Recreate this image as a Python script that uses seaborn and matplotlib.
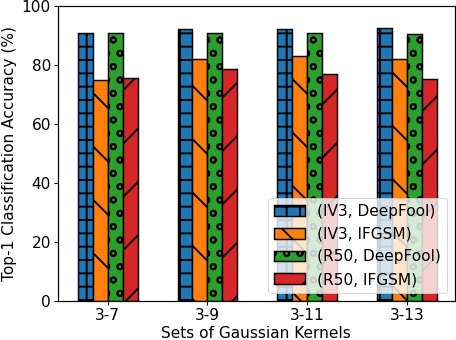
import seaborn as sns
import pandas as pd
import numpy as np
import matplotlib.pyplot as plt

# data
kernels = ['3-7', '3-9', '3-11', '3-13']
series = ['(IV3, DeepFool)', '(IV3, IFGSM)', '(R50, DeepFool)', '(R50, IFGSM)']
iv3_deepfool = [91.0, 92.2, 92.2, 92.5]
iv3_ifgsm = [75.0, 82.2, 83.2, 82.0]
r50_deepfool = [91.0, 91.0, 90.8, 90.5]
r50_ifgsm = [75.7, 78.8, 77.0, 75.3]

colors = ['#1f77b4', '#ff7f0e', '#2ca02c', '#d62728']
hatches = ['++', '\\', 'oo', '/']

df = pd.DataFrame({
    'kernel': kernels * 4,
    'series': np.repeat(series, len(kernels)),
    'acc': iv3_deepfool + iv3_ifgsm + r50_deepfool + r50_ifgsm,
})

sns.set_style('ticks')
plt.rcParams['font.family'] = ['DejaVu Sans']
plt.rcParams['hatch.linewidth'] = 0.85
for k in ['text.color', 'axes.labelcolor', 'xtick.color', 'ytick.color', 'axes.edgecolor']:
    plt.rcParams[k] = 'black'

fs = 6.9
# small figure at high dpi so the hatch spacing matches the reference
fig, ax = plt.subplots(figsize=(2.85, 2.125), dpi=160)
sns.barplot(data=df, x='kernel', y='acc', hue='series', palette=colors,
            saturation=1, width=0.6, edgecolor='black', linewidth=0.65, ax=ax)

for cont, h in zip(ax.containers, hatches):
    for bar in cont:
        bar.set_hatch(h)

ax.set_ylim(0, 100)
ax.set_xlim(-0.5, 3.48)
ax.set_xlabel('Sets of Gaussian Kernels', fontsize=fs, labelpad=1.5)
ax.set_ylabel('Top-1 Classification Accuracy (%)', fontsize=fs, labelpad=2)
ax.tick_params(labelsize=fs, length=1.6, width=0.45, pad=1.5)
for s in ax.spines.values():
    s.set_visible(True)
    s.set_linewidth(0.55)

handles, labels = ax.get_legend_handles_labels()
for hd, h in zip(handles, hatches):
    hd.set_hatch(h)
leg = ax.legend(handles, labels, loc='lower right', fontsize=fs, title=None,
                framealpha=0.8, borderaxespad=0.5)
leg.get_frame().set_linewidth(0.45)

plt.subplots_adjust(left=0.127, right=0.997, top=0.982, bottom=0.115)
plt.savefig('out.png', dpi=160)
